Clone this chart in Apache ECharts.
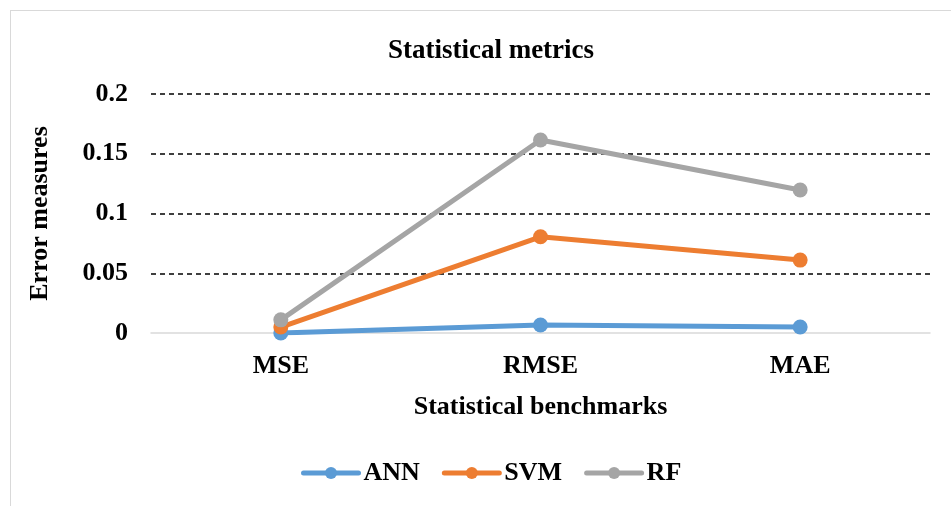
<!DOCTYPE html>
<html><head><meta charset="utf-8">
<script src="https://cdn.jsdelivr.net/npm/echarts@6/dist/echarts.min.js"></script>
<style>html,body{margin:0;padding:0;background:#fff}#c{width:951px;height:506px}
#frame{position:absolute;left:10px;top:10px;width:960px;height:520px;border:1.5px solid #d9d9d9;box-sizing:border-box;pointer-events:none}</style>
</head><body><div id="c"></div><div id="frame"></div>
<script>
const categories = ['MSE', 'RMSE', 'MAE'];
const ann = [0.0, 0.0067, 0.005];
const svm = [0.005, 0.0805, 0.061];
const rf = [0.011, 0.1615, 0.1197];
const yTicks = [0, 0.05, 0.1, 0.15, 0.2];

const font = '"Liberation Serif", "Times New Roman", serif';
const chart = echarts.init(document.getElementById('c'));
const mk = (name, data, color) => ({
  name, type: 'line', data, symbol: 'circle', symbolSize: 15,
  lineStyle: {width: 5, color, cap: 'round'}, itemStyle: {color}, z: 3
});
const txt = {fontFamily: font, fontSize: 26, fontWeight: 'bold', color: '#000'};
chart.setOption({
  animation: false,
  title: {text: 'Statistical metrics', left: 486, top: 33, textAlign: 'center',
    textStyle: Object.assign({}, txt, {fontSize: 27})},
  legend: {top: 455, left: 296, itemWidth: 55, itemHeight: 15, itemGap: 22,
    lineStyle: {width: 5, cap: 'round'},
    textStyle: txt, data: ['ANN', 'SVM', 'RF']},
  grid: {left: 151, right: 21, top: 94, bottom: 173, containLabel: false},
  xAxis: {type: 'category', data: categories, boundaryGap: true,
    name: 'Statistical benchmarks', nameLocation: 'middle', nameGap: 61,
    nameTextStyle: txt,
    axisLine: {show: true, lineStyle: {color: '#d9d9d9', width: 1.5}},
    axisTick: {show: false},
    axisLabel: Object.assign({}, txt, {margin: 20})},
  yAxis: {type: 'value', min: 0, max: 0.2, interval: 0.05,
    name: 'Error measures', nameLocation: 'middle', nameGap: 98, nameRotate: 90,
    nameTextStyle: txt,
    axisLine: {show: false}, axisTick: {show: false},
    axisLabel: Object.assign({}, txt, {margin: 23,
      formatter: v => yTicks.includes(+v.toFixed(2)) ? String(+v.toFixed(2)) : ''}),
    splitLine: {show: true, lineStyle: {color: ['rgba(0,0,0,0)', '#000', '#000', '#000', '#000'], type: [5, 4], width: 1.5}}},
  series: [mk('ANN', ann, '#5B9BD5'), mk('SVM', svm, '#ED7D31'), mk('RF', rf, '#A5A5A5')]
});
</script></body></html>
